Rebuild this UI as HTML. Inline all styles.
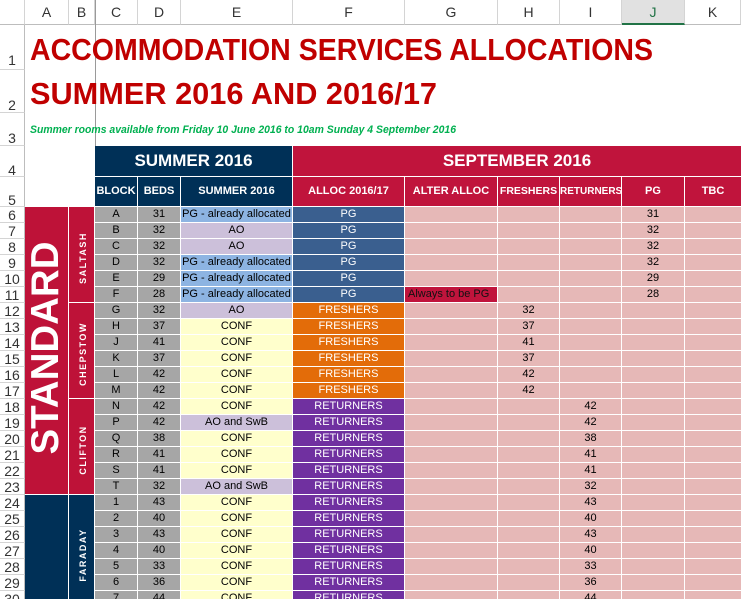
<!DOCTYPE html>
<html style="overflow:hidden;height:599px"><head><meta charset="utf-8"><style>
body{margin:0;width:741px;height:599px;overflow:hidden;background:#fff;font-family:"Liberation Sans",Arial,sans-serif;position:relative}
div{position:absolute;box-sizing:border-box}
.r{left:0;width:741px;height:16px}
.r div{height:15px;top:0;font-size:11px;line-height:15px;text-align:center;white-space:nowrap;overflow:hidden}
.r div.n{left:0;width:25px;height:16px;border-right:1px solid #bdbdbd;border-bottom:1px solid #d4d4d4;font-size:14px;line-height:16px;color:#333;background:#fff}
.c{left:95px;width:42px;background:#a6a6a6}
.d{left:138px;width:42px;background:#a6a6a6}
.e{left:181px;width:111px}
.f{left:293px;width:111px;color:#fff}
.g{left:405px;width:92px;background:#e6b8b7}
.h{left:498px;width:61px;background:#e6b8b7}
.i{left:560px;width:61px;background:#e6b8b7}
.j{left:622px;width:62px;background:#e6b8b7}
.k{left:685px;width:56px;background:#e6b8b7}
.lb{background:#8db4e2}.lv{background:#ccc0da}.y{background:#ffffcc}
.pb{background:#3a5f8f}.or{background:#e36c09}.pu{background:#7030a0}
.ch{top:0;height:25px;border-bottom:1px solid #bdbdbd;border-right:1px solid #d4d4d4;font-size:14px;color:#333;text-align:center;line-height:24px}
.rh{left:0;width:25px;border-right:1px solid #bdbdbd;border-bottom:1px solid #d4d4d4;font-size:14px;color:#333;text-align:center}
.hd{color:#fff;font-weight:bold;text-align:center}
</style></head><body>
<div class="ch" style="left:0;width:25px"></div>
<div class="ch" style="left:25px;width:44px">A</div>
<div class="ch" style="left:69px;width:26px">B</div>
<div class="ch" style="left:95px;width:43px">C</div>
<div class="ch" style="left:138px;width:43px">D</div>
<div class="ch" style="left:181px;width:112px">E</div>
<div class="ch" style="left:293px;width:112px">F</div>
<div class="ch" style="left:405px;width:93px">G</div>
<div class="ch" style="left:498px;width:62px">H</div>
<div class="ch" style="left:560px;width:62px">I</div>
<div class="ch" style="left:622px;width:63px;background:#e1e1e1;color:#217346;border-bottom:2px solid #217346">J</div>
<div class="ch" style="left:685px;width:56px">K</div>

<div class="rh" style="top:25px;height:45px;line-height:70px">1</div>
<div class="rh" style="top:70px;height:43px;line-height:70px">2</div>
<div class="rh" style="top:113px;height:33px;line-height:50px">3</div>
<div class="rh" style="top:146px;height:31px;line-height:48px">4</div>
<div class="rh" style="top:177px;height:30px;line-height:46px">5</div>

<div class="hd" style="left:95px;top:146px;width:197px;height:30px;background:#003057;font-size:17px;line-height:30px">SUMMER 2016</div>
<div class="hd" style="left:293px;top:146px;width:448px;height:30px;background:#c0143c;font-size:17px;line-height:30px">SEPTEMBER 2016</div>
<div class="hd" style="left:95px;top:177px;width:42px;height:29px;background:#003057;font-size:11px;line-height:29px">BLOCK</div>
<div class="hd" style="left:138px;top:177px;width:42px;height:29px;background:#003057;font-size:11px;line-height:29px">BEDS</div>
<div class="hd" style="left:181px;top:177px;width:111px;height:29px;background:#003057;font-size:11px;line-height:29px">SUMMER 2016</div>
<div class="hd" style="left:293px;top:177px;width:111px;height:29px;background:#c0143c;font-size:11px;line-height:29px">ALLOC 2016/17</div>
<div class="hd" style="left:405px;top:177px;width:92px;height:29px;background:#c0143c;font-size:11px;line-height:29px">ALTER ALLOC</div>
<div class="hd" style="left:498px;top:177px;width:61px;height:29px;background:#c0143c;font-size:10.5px;line-height:29px">FRESHERS</div>
<div class="hd" style="left:560px;top:177px;width:61px;height:29px;background:#c0143c;font-size:10px;line-height:29px;overflow:hidden">RETURNERS</div>
<div class="hd" style="left:622px;top:177px;width:62px;height:29px;background:#c0143c;font-size:11px;line-height:29px">PG</div>
<div class="hd" style="left:685px;top:177px;width:56px;height:29px;background:#c0143c;font-size:11px;line-height:29px">TBC</div>

<div style="left:25px;top:207px;width:43px;height:287px;background:#be1238"></div>
<div style="left:69px;top:207px;width:25px;height:95px;background:#be1238"></div>
<div style="left:69px;top:303px;width:25px;height:95px;background:#be1238"></div>
<div style="left:69px;top:399px;width:25px;height:95px;background:#be1238"></div>
<div style="left:25px;top:495px;width:43px;height:104px;background:#003057"></div>
<div style="left:69px;top:495px;width:25px;height:104px;background:#003057"></div>

<div class="r" style="top:207px"><div class="n">6</div><div class="c">A</div><div class="d">31</div><div class="e lb">PG - already allocated</div><div class="f pb">PG</div><div class="g"></div><div class="h"></div><div class="i"></div><div class="j">31</div><div class="k"></div></div>
<div class="r" style="top:223px"><div class="n">7</div><div class="c">B</div><div class="d">32</div><div class="e lv">AO</div><div class="f pb">PG</div><div class="g"></div><div class="h"></div><div class="i"></div><div class="j">32</div><div class="k"></div></div>
<div class="r" style="top:239px"><div class="n">8</div><div class="c">C</div><div class="d">32</div><div class="e lv">AO</div><div class="f pb">PG</div><div class="g"></div><div class="h"></div><div class="i"></div><div class="j">32</div><div class="k"></div></div>
<div class="r" style="top:255px"><div class="n">9</div><div class="c">D</div><div class="d">32</div><div class="e lb">PG - already allocated</div><div class="f pb">PG</div><div class="g"></div><div class="h"></div><div class="i"></div><div class="j">32</div><div class="k"></div></div>
<div class="r" style="top:271px"><div class="n">10</div><div class="c">E</div><div class="d">29</div><div class="e lb">PG - already allocated</div><div class="f pb">PG</div><div class="g"></div><div class="h"></div><div class="i"></div><div class="j">29</div><div class="k"></div></div>
<div class="r" style="top:287px"><div class="n">11</div><div class="c">F</div><div class="d">28</div><div class="e lb">PG - already allocated</div><div class="f pb">PG</div><div class="g" style="background:#c0143c;color:#111;text-align:left;padding-left:3px">Always to be PG</div><div class="h"></div><div class="i"></div><div class="j">28</div><div class="k"></div></div>
<div class="r" style="top:303px"><div class="n">12</div><div class="c">G</div><div class="d">32</div><div class="e lv">AO</div><div class="f or">FRESHERS</div><div class="g"></div><div class="h">32</div><div class="i"></div><div class="j"></div><div class="k"></div></div>
<div class="r" style="top:319px"><div class="n">13</div><div class="c">H</div><div class="d">37</div><div class="e y">CONF</div><div class="f or">FRESHERS</div><div class="g"></div><div class="h">37</div><div class="i"></div><div class="j"></div><div class="k"></div></div>
<div class="r" style="top:335px"><div class="n">14</div><div class="c">J</div><div class="d">41</div><div class="e y">CONF</div><div class="f or">FRESHERS</div><div class="g"></div><div class="h">41</div><div class="i"></div><div class="j"></div><div class="k"></div></div>
<div class="r" style="top:351px"><div class="n">15</div><div class="c">K</div><div class="d">37</div><div class="e y">CONF</div><div class="f or">FRESHERS</div><div class="g"></div><div class="h">37</div><div class="i"></div><div class="j"></div><div class="k"></div></div>
<div class="r" style="top:367px"><div class="n">16</div><div class="c">L</div><div class="d">42</div><div class="e y">CONF</div><div class="f or">FRESHERS</div><div class="g"></div><div class="h">42</div><div class="i"></div><div class="j"></div><div class="k"></div></div>
<div class="r" style="top:383px"><div class="n">17</div><div class="c">M</div><div class="d">42</div><div class="e y">CONF</div><div class="f or">FRESHERS</div><div class="g"></div><div class="h">42</div><div class="i"></div><div class="j"></div><div class="k"></div></div>
<div class="r" style="top:399px"><div class="n">18</div><div class="c">N</div><div class="d">42</div><div class="e y">CONF</div><div class="f pu">RETURNERS</div><div class="g"></div><div class="h"></div><div class="i">42</div><div class="j"></div><div class="k"></div></div>
<div class="r" style="top:415px"><div class="n">19</div><div class="c">P</div><div class="d">42</div><div class="e lv">AO and SwB</div><div class="f pu">RETURNERS</div><div class="g"></div><div class="h"></div><div class="i">42</div><div class="j"></div><div class="k"></div></div>
<div class="r" style="top:431px"><div class="n">20</div><div class="c">Q</div><div class="d">38</div><div class="e y">CONF</div><div class="f pu">RETURNERS</div><div class="g"></div><div class="h"></div><div class="i">38</div><div class="j"></div><div class="k"></div></div>
<div class="r" style="top:447px"><div class="n">21</div><div class="c">R</div><div class="d">41</div><div class="e y">CONF</div><div class="f pu">RETURNERS</div><div class="g"></div><div class="h"></div><div class="i">41</div><div class="j"></div><div class="k"></div></div>
<div class="r" style="top:463px"><div class="n">22</div><div class="c">S</div><div class="d">41</div><div class="e y">CONF</div><div class="f pu">RETURNERS</div><div class="g"></div><div class="h"></div><div class="i">41</div><div class="j"></div><div class="k"></div></div>
<div class="r" style="top:479px"><div class="n">23</div><div class="c">T</div><div class="d">32</div><div class="e lv">AO and SwB</div><div class="f pu">RETURNERS</div><div class="g"></div><div class="h"></div><div class="i">32</div><div class="j"></div><div class="k"></div></div>
<div class="r" style="top:495px"><div class="n">24</div><div class="c">1</div><div class="d">43</div><div class="e y">CONF</div><div class="f pu">RETURNERS</div><div class="g"></div><div class="h"></div><div class="i">43</div><div class="j"></div><div class="k"></div></div>
<div class="r" style="top:511px"><div class="n">25</div><div class="c">2</div><div class="d">40</div><div class="e y">CONF</div><div class="f pu">RETURNERS</div><div class="g"></div><div class="h"></div><div class="i">40</div><div class="j"></div><div class="k"></div></div>
<div class="r" style="top:527px"><div class="n">26</div><div class="c">3</div><div class="d">43</div><div class="e y">CONF</div><div class="f pu">RETURNERS</div><div class="g"></div><div class="h"></div><div class="i">43</div><div class="j"></div><div class="k"></div></div>
<div class="r" style="top:543px"><div class="n">27</div><div class="c">4</div><div class="d">40</div><div class="e y">CONF</div><div class="f pu">RETURNERS</div><div class="g"></div><div class="h"></div><div class="i">40</div><div class="j"></div><div class="k"></div></div>
<div class="r" style="top:559px"><div class="n">28</div><div class="c">5</div><div class="d">33</div><div class="e y">CONF</div><div class="f pu">RETURNERS</div><div class="g"></div><div class="h"></div><div class="i">33</div><div class="j"></div><div class="k"></div></div>
<div class="r" style="top:575px"><div class="n">29</div><div class="c">6</div><div class="d">36</div><div class="e y">CONF</div><div class="f pu">RETURNERS</div><div class="g"></div><div class="h"></div><div class="i">36</div><div class="j"></div><div class="k"></div></div>
<div class="r" style="top:591px;height:8px;overflow:hidden"><div class="n">30</div><div class="c">7</div><div class="d">44</div><div class="e y">CONF</div><div class="f pu">RETURNERS</div><div class="g"></div><div class="h"></div><div class="i">44</div><div class="j"></div><div class="k"></div></div>

<svg width="741" height="599" style="position:absolute;left:0;top:0;pointer-events:none" xmlns="http://www.w3.org/2000/svg">
<line x1="95.5" y1="0" x2="95.5" y2="146" stroke="#9a9a9a" stroke-width="1"/>
<text x="30" y="60" font-family="Liberation Sans, Arial, sans-serif" font-weight="bold" font-size="31" fill="#c00000" textLength="623" lengthAdjust="spacingAndGlyphs">ACCOMMODATION SERVICES ALLOCATIONS</text>
<text x="30" y="104" font-family="Liberation Sans, Arial, sans-serif" font-weight="bold" font-size="31" fill="#c00000" textLength="407" lengthAdjust="spacingAndGlyphs">SUMMER 2016 AND 2016/17</text>
<text x="30" y="133" font-family="Liberation Sans, Arial, sans-serif" font-weight="bold" font-style="italic" font-size="11" fill="#00b050" textLength="426" lengthAdjust="spacingAndGlyphs">Summer rooms available from Friday 10 June 2016 to 10am Sunday 4 September 2016</text>
<text transform="translate(58,348) rotate(-90)" text-anchor="middle" font-family="Liberation Sans, Arial, sans-serif" font-weight="bold" font-size="39" fill="#fff" textLength="213" lengthAdjust="spacingAndGlyphs">STANDARD</text>
<g font-family="Liberation Sans, Arial, sans-serif" font-weight="bold" font-size="9" fill="#fff" letter-spacing="1.5">
<text transform="translate(86,258) rotate(-90)" text-anchor="middle">SALTASH</text>
<text transform="translate(86,354) rotate(-90)" text-anchor="middle">CHEPSTOW</text>
<text transform="translate(86,450) rotate(-90)" text-anchor="middle">CLIFTON</text>
<text transform="translate(86,555) rotate(-90)" text-anchor="middle">FARADAY</text>
</g>
</svg>
</body></html>
